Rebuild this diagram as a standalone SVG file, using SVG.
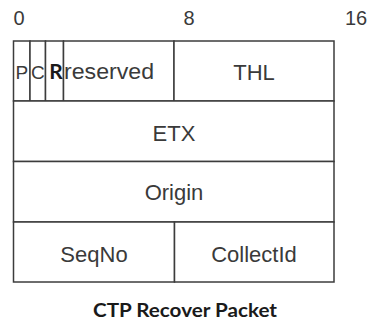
<svg xmlns="http://www.w3.org/2000/svg" width="369" height="322" viewBox="0 0 369 322">
  <style>
    .cell { fill: #ffffff; stroke: #3c3c3c; stroke-width: 1.5; }
    .lbl { font-family: "Liberation Sans", Arial, sans-serif; font-size: 22px; fill: #3a3a3a; text-anchor: middle; }
    .lbl-start { font-family: "Liberation Sans", Arial, sans-serif; font-size: 22px; fill: #3a3a3a; text-anchor: start; }
    .flag { font-family: "Liberation Sans", Arial, sans-serif; font-size: 19px; fill: #3a3a3a; text-anchor: middle; }
    .bit { font-family: "Liberation Sans", Arial, sans-serif; font-size: 20px; fill: #3a3a3a; }
    .bold { font-family: Lato, "Open Sans", sans-serif; font-weight: bold; fill: #1a1a1a; text-anchor: middle; }
  </style>
  <rect width="369" height="322" fill="#ffffff"/>

  <!-- bit offsets -->
  <g id="bit-scale">
    <text class="bit" x="13.5" y="24.5">0</text>
    <text class="bit" x="183.5" y="24.5">8</text>
    <text class="bit" x="345" y="24.5">16</text>
  </g>

  <!-- header word: flags, reserved bits, THL -->
  <g id="field-P">
    <rect class="cell" x="13.5" y="41" width="16.5" height="60"/>
    <text class="flag" x="21.75" y="78.5">P</text>
  </g>
  <g id="field-C">
    <rect class="cell" x="30" y="41" width="15.5" height="60"/>
    <text class="flag" x="37.75" y="78.5">C</text>
  </g>
  <g id="field-R">
    <rect class="cell" x="45.5" y="41" width="18" height="60"/>
    <text class="bold" x="56" y="78.5" font-size="21">R</text>
  </g>
  <g id="field-reserved">
    <rect class="cell" x="63.5" y="41" width="110.5" height="60"/>
    <text class="lbl-start" x="64" y="79" textLength="90" lengthAdjust="spacingAndGlyphs">reserved</text>
  </g>
  <g id="field-THL">
    <rect class="cell" x="174" y="41" width="160" height="60"/>
    <text class="lbl" x="254" y="80">THL</text>
  </g>

  <!-- full-width fields -->
  <g id="field-ETX">
    <rect class="cell" x="13.5" y="101" width="320.5" height="60.5"/>
    <text class="lbl" x="174" y="140.5">ETX</text>
  </g>
  <g id="field-Origin">
    <rect class="cell" x="13.5" y="161.5" width="320.5" height="60.5"/>
    <text class="lbl" x="174" y="200">Origin</text>
  </g>

  <!-- last word -->
  <g id="field-SeqNo">
    <rect class="cell" x="13.5" y="222" width="161" height="60"/>
    <text class="lbl" x="94" y="261.5">SeqNo</text>
  </g>
  <g id="field-CollectId">
    <rect class="cell" x="174.5" y="222" width="159.5" height="60"/>
    <text class="lbl" x="254" y="261.5">CollectId</text>
  </g>

  <!-- caption -->
  <text id="caption" class="bold" x="185" y="316.5" font-size="19" textLength="184" lengthAdjust="spacingAndGlyphs">CTP Recover Packet</text>
</svg>
